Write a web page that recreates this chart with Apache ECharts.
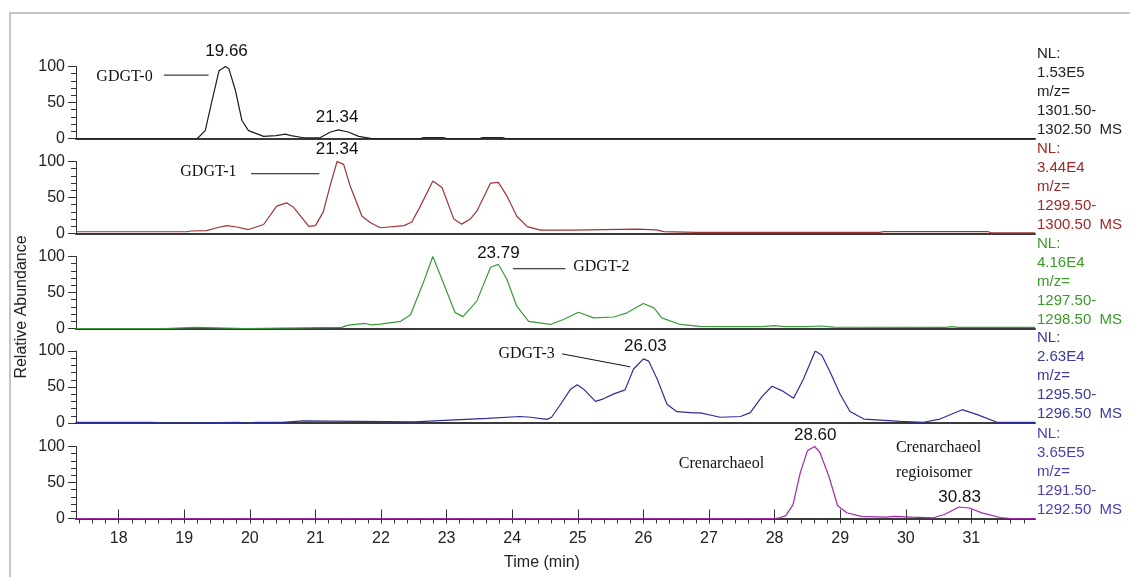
<!DOCTYPE html>
<html>
<head>
<meta charset="utf-8">
<title>GDGT chromatograms</title>
<script src="https://cdn.jsdelivr.net/npm/echarts@6/dist/echarts.min.js"></script>
<style>
    html, body { margin: 0; padding: 0; background: #fff; }
    #chart { width: 1130px; height: 577px; }
</style>
</head>
<body>
<div id="chart"></div>
<script>
var timeMin = 17.35, timeMax = 31.97;
var xTicks = [18, 19, 20, 21, 22, 23, 24, 25, 26, 27, 28, 29, 30, 31];

// GDGT-0, m/z 1301.5-1302.5
var t0 = [17.35, 19.2, 19.32, 19.43, 19.53, 19.63, 19.68, 19.78, 19.88, 19.98, 20.21, 20.4, 20.54, 20.63, 20.82, 21.07, 21.23, 21.35, 21.5, 21.66, 21.86, 22.6, 22.65, 22.95, 23.0, 23.5, 23.55, 23.85, 23.9, 31.97];
var v0 = [0, 0, 11, 55, 94, 100, 97, 67, 25, 11, 3, 4, 6, 4, 1, 1, 9, 12, 9, 3, 0, 0, 1.2, 1.2, 0, 0, 1.2, 1.2, 0, 0];
// GDGT-1, m/z 1299.5-1300.5
var t1 = [17.35, 19.04, 19.1, 19.34, 19.5, 19.65, 19.8, 19.98, 20.21, 20.41, 20.56, 20.67, 20.9, 21.0, 21.12, 21.22, 21.33, 21.43, 21.53, 21.71, 21.84, 21.99, 22.35, 22.47, 22.6, 22.79, 22.93, 23.11, 23.23, 23.36, 23.46, 23.67, 23.79, 23.92, 24.07, 24.23, 24.43, 24.9, 25.9, 26.2, 26.31, 26.8, 29.6, 29.66, 31.26, 31.3, 31.97];
var v1 = [2.4, 2.4, 3.5, 4, 8, 11, 9, 5.5, 12.5, 38, 42.6, 36, 10, 11, 30, 65, 100, 96, 66, 24, 15, 8, 11, 16, 38, 73, 64, 20, 13, 20, 31, 70, 71, 52, 24, 9.5, 4.6, 4.6, 6, 5, 2.7, 1.5, 1.5, 2.5, 2.5, 1, 1];
// GDGT-2, m/z 1297.5-1298.5
var t2 = [17.35, 18.7, 18.71, 19.17, 19.18, 19.93, 19.94, 21.4, 21.5, 21.76, 21.85, 21.99, 22.3, 22.45, 22.65, 22.79, 22.93, 23.13, 23.25, 23.46, 23.67, 23.79, 23.92, 24.07, 24.25, 24.58, 24.78, 25.01, 25.24, 25.55, 25.75, 26.0, 26.16, 26.28, 26.56, 26.86, 27.16, 27.8, 28.0, 28.15, 28.5, 28.7, 28.9, 30.6, 30.7, 30.8, 31.97];
var v2 = [0, 0, 1.5, 1.5, 0, 0, 1.5, 1.5, 4.6, 7, 5, 6, 10, 19, 65, 100, 68, 22, 16.5, 38, 85, 89, 68, 31, 10, 5.6, 12.5, 22.6, 14.8, 16, 21.8, 34.7, 28.7, 14.8, 5.6, 3, 2.5, 2.5, 4, 2.5, 2.5, 3.5, 2, 1.5, 2.5, 1.5, 1.5];
// GDGT-3, m/z 1295.5-1296.5
var t3 = [17.35, 18.47, 18.48, 18.81, 18.82, 19.83, 19.85, 19.95, 20.1, 20.48, 20.5, 20.82, 20.84, 22.5, 23.21, 23.62, 24.12, 24.28, 24.53, 24.6, 24.73, 24.89, 24.99, 25.09, 25.27, 25.39, 25.55, 25.72, 25.85, 26.0, 26.08, 26.21, 26.36, 26.51, 26.77, 26.87, 27.17, 27.48, 27.63, 27.81, 27.96, 28.11, 28.29, 28.44, 28.62, 28.72, 28.85, 29.0, 29.15, 29.36, 29.92, 30.27, 30.52, 30.86, 31.09, 31.39, 31.97];
var v3 = [1, 1, 0, 0, 1, 1, 0, 0, 1, 1, 3, 3, 1, 1.5, 4.7, 6.5, 9, 8, 5, 8, 25, 47, 53, 47, 30, 33.6, 40.5, 46, 75, 89, 86, 61, 26, 15.7, 14, 14, 8, 9, 14.4, 37, 51, 45, 34.5, 61, 100, 94, 70, 40, 16, 5.5, 2.3, 1, 5.5, 18.5, 11.6, 1, 1];
// crenarchaeol, m/z 1291.5-1292.5
var t4 = [17.35, 28.0, 28.08, 28.17, 28.28, 28.39, 28.5, 28.61, 28.69, 28.83, 28.96, 29.1, 29.32, 29.7, 29.82, 30.09, 30.42, 30.59, 30.81, 30.97, 31.16, 31.44, 31.6, 31.97];
var v4 = [0, 0, 1, 4, 19, 63, 94, 100, 92, 58, 18, 8, 3, 2, 3, 2, 1, 5.5, 16, 14.6, 7.8, 1.4, 0, 0];

var times = [t0, t1, t2, t3, t4];
var values = [v0, v1, v2, v3, v4];
var nlValues = ['1.53E5', '3.44E4', '4.16E4', '2.63E4', '3.65E5'];
var mzFrom = ['1301.50-', '1299.50-', '1297.50-', '1295.50-', '1291.50-'];
var mzTo = ['1302.50  MS', '1300.50  MS', '1298.50  MS', '1296.50  MS', '1292.50  MS'];

var lineColors = ['#1e1e1e', '#a03434', '#3a9a3a', '#2e2e96', '#a22aa8'];
var infoColors = ['#222222', '#a02828', '#3c9a28', '#3a3aa0', '#4e3cb0'];
var gridTops = [66.5, 161.5, 256.5, 351, 446.5];

// 峰标注 (time, abundance)
var notes = [
    {p: 0, t: 19.645, v: 121, text: '19.66'},
    {p: 0, t: 17.66, v: 86, text: 'GDGT-0', serif: true},
    {p: 0, t: 21.33, v: 29, text: '21.34'},
    {p: 1, t: 21.33, v: 117, text: '21.34'},
    {p: 1, t: 18.94, v: 86, text: 'GDGT-1', serif: true},
    {p: 2, t: 23.79, v: 105, text: '23.79'},
    {p: 2, t: 24.93, v: 86, text: 'GDGT-2', serif: true},
    {p: 3, t: 23.79, v: 96, text: 'GDGT-3', serif: true},
    {p: 3, t: 26.03, v: 106, text: '26.03'},
    {p: 4, t: 28.62, v: 115, text: '28.60'},
    {p: 4, t: 26.54, v: 76, text: 'Crenarchaeol', serif: true},
    {p: 4, t: 29.85, v: 98, text: 'Crenarchaeol', serif: true},
    {p: 4, t: 29.85, v: 63, text: 'regioisomer', serif: true},
    {p: 4, t: 30.82, v: 30, text: '30.83'}
];
var leaders = [
    {p: 0, a: [18.69, 88], b: [19.37, 88]},
    {p: 1, a: [20.02, 83], b: [21.06, 83]},
    {p: 2, a: [24.01, 83], b: [24.81, 83]},
    {p: 3, a: [24.76, 96], b: [25.80, 78]}
];

var minorX = [];
for (var k = 87; k <= 159; k++) {
    minorX.push(+(k * 0.2).toFixed(1));
}

var chart = echarts.init(document.getElementById('chart'));
var grids = [], xAxes = [], yAxes = [], series = [];
for (var i = 0; i < 5; i++) {
    var last = i === 4;
    grids.push({left: 76, right: 95, top: gridTops[i], height: 72});
    xAxes.push({
        type: 'value', gridIndex: i, min: timeMin, max: timeMax,
        axisLine: {show: true, onZero: false, lineStyle: {color: '#3a3a3a', width: 2}},
        axisTick: {show: last, length: 5, customValues: minorX, lineStyle: {color: '#333'}},
        axisLabel: {show: last, customValues: xTicks, margin: 12, fontSize: 16, color: '#222', fontFamily: 'Liberation Sans'},
        splitLine: {show: false}
    });
    yAxes.push({
        type: 'value', gridIndex: i, min: 0, max: 100, interval: 50,
        axisLine: {show: true, lineStyle: {color: '#333', width: 1}},
        axisTick: {show: true, length: 8, lineStyle: {color: '#333'}},
        minorTick: {show: true, splitNumber: 5, length: 5, lineStyle: {color: '#333'}},
        axisLabel: {fontSize: 16, color: '#222', margin: 11, fontFamily: 'Liberation Sans'},
        splitLine: {show: false}
    });
    var pts = [];
    for (var j = 0; j < times[i].length; j++) {
        pts.push([times[i][j], values[i][j]]);
    }
    series.push({
        type: 'line', xAxisIndex: i, yAxisIndex: i, data: pts,
        showSymbol: false, symbol: 'none', silent: true,
        lineStyle: {color: lineColors[i], width: 1.2}
    });
}
// 主刻度 (long ticks at whole minutes)
xAxes.push({
    type: 'value', gridIndex: 4, min: timeMin, max: timeMax,
    axisLine: {show: false},
    axisTick: {show: true, length: 9, customValues: xTicks, lineStyle: {color: '#333'}},
    axisLabel: {show: false},
    splitLine: {show: false}
});

chart.setOption({
    backgroundColor: '#fff',
    animation: false,
    grid: grids,
    xAxis: xAxes,
    yAxis: yAxes,
    series: series
});

var sans = '"Liberation Sans", Arial, sans-serif';
var serif = '"Liberation Serif", "Times New Roman", serif';
var g = [
    {type: 'rect', shape: {x: 10, y: 13, width: 1200, height: 700}, style: {fill: null, stroke: '#b4b4b4', lineWidth: 1.5}},
    {type: 'text', x: 22, y: 307, rotation: Math.PI / 2,
        style: {text: 'Relative Abundance', font: '16px ' + sans, fill: '#222', align: 'center', verticalAlign: 'middle'}},
    {type: 'text', x: 542, y: 563,
        style: {text: 'Time (min)', font: '16px ' + sans, fill: '#222', align: 'center', verticalAlign: 'middle'}}
];
notes.forEach(function (n) {
    var p = chart.convertToPixel({seriesIndex: n.p}, [n.t, n.v]);
    g.push({type: 'text', x: p[0], y: p[1], style: {
        text: n.text, font: (n.serif ? '16px ' + serif : '17px ' + sans), fill: '#111',
        align: n.serif ? 'left' : 'center', verticalAlign: 'middle'}});
});
leaders.forEach(function (l) {
    var a = chart.convertToPixel({seriesIndex: l.p}, l.a);
    var b = chart.convertToPixel({seriesIndex: l.p}, l.b);
    g.push({type: 'line', shape: {x1: a[0], y1: a[1], x2: b[0], y2: b[1]}, style: {stroke: '#111', lineWidth: 1}});
});
var offs = [-85, -66, -47, -28, -9];
for (var i = 0; i < 5; i++) {
    var base = chart.convertToPixel({seriesIndex: i}, [timeMax, 0]);
    var lines = ['NL:', nlValues[i], 'm/z=', mzFrom[i], mzTo[i]];
    lines.forEach(function (s, k) {
        g.push({type: 'text', x: base[0] + 2, y: base[1] + offs[k], style: {
            text: s, font: '15px ' + sans, fill: infoColors[i], align: 'left', verticalAlign: 'middle'}});
    });
}
chart.setOption({graphic: g});
</script>
</body>
</html>
